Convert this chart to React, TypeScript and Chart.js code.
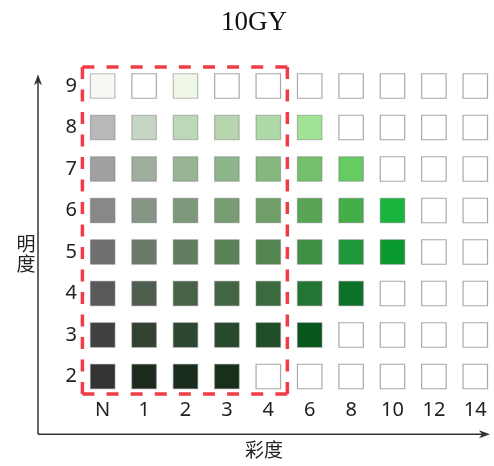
import React, { useEffect, useRef } from 'react';
import { Chart, registerables } from 'chart.js';

Chart.register(...registerables);

const titleText = '10GY';
const xAxisTitle = '彩度';
const yAxisTitle = ['明', '度'];
const chromaLabels = ['N', '1', '2', '3', '4', '6', '8', '10', '12', '14'];
const valueLevels = [9, 8, 7, 6, 5, 4, 3, 2];
// colours per value row, in the order of chromaLabels; null = empty square
const row9 = ['#f7f8f2', null, '#eff8e7', null, null, null, null, null, null, null];
const row8 = ['#b9b9b9', '#c5d5c3', '#bdd8b9', '#b5d6af', '#acd9a6', '#a2e395', null, null, null, null];
const row7 = ['#a0a0a0', '#9fae9e', '#98b495', '#8fb68a', '#86b77f', '#74c06a', '#66cc62', null, null, null];
const row6 = ['#888888', '#869585', '#7e987b', '#779b72', '#6f9e68', '#58a655', '#44ae48', '#19b43e', null, null];
const row5 = ['#707070', '#6b7a69', '#627e60', '#5b8258', '#538650', '#409146', '#1f983c', '#0a9a2d', null, null];
const row4 = ['#595959', '#4f5d4e', '#486247', '#426643', '#3a6a3d', '#217535', '#0d7129', null, null, null];
const row3 = ['#414141', '#314232', '#2b472f', '#27492c', '#1f4d27', '#08561d', null, null, null, null];
const row2 = ['#333333', '#1d2b1e', '#1a2d1c', '#172f1b', null, null, null, null, null, null];
const rowColors = [row9, row8, row7, row6, row5, row4, row3, row2];
// highlighted region: chroma index range and value range
const highlightX = [-0.49, 4.46];
const highlightY = [1.58, 9.46];

const points: { x: number; y: number }[] = [];
const fills: string[] = [];
const borders: string[] = [];
valueLevels.forEach((v, ri) => {
  chromaLabels.forEach((_, ci) => {
    const c = rowColors[ri][ci];
    points.push({ x: ci, y: v });
    fills.push(c ? c : '#ffffff');
    borders.push(c ? 'rgba(110,110,110,0.45)' : '#a8a8a8');
  });
});

function dashedLine(ctx: CanvasRenderingContext2D, x1: number, y1: number, x2: number, y2: number, dash: number, gap: number) {
  const len = Math.hypot(x2 - x1, y2 - y1);
  const n = Math.max(2, Math.round((len + gap) / (dash + gap)));
  const g = (len - n * dash) / (n - 1);
  ctx.setLineDash([dash, g]);
  ctx.beginPath();
  ctx.moveTo(x1, y1);
  ctx.lineTo(x2, y2);
  ctx.stroke();
}

const decor = {
  id: 'decor',
  afterDraw(chart: any) {
    const { ctx, chartArea, scales } = chart;
    const xs = scales.x;
    const ys = scales.y;
    ctx.save();
    // red dashed highlight
    const l = xs.getPixelForValue(highlightX[0]);
    const r = xs.getPixelForValue(highlightX[1]);
    const t = ys.getPixelForValue(highlightY[1]);
    const b = ys.getPixelForValue(highlightY[0]);
    ctx.strokeStyle = '#f03c46';
    ctx.lineWidth = 3.5;
    ctx.lineCap = 'butt';
    dashedLine(ctx, l, t, r, t, 12, 11);
    dashedLine(ctx, r, t, r, b, 12, 11);
    dashedLine(ctx, l, b, r, b, 12, 11);
    dashedLine(ctx, l, t, l, b, 12, 11);
    ctx.setLineDash([]);
    // axes with arrows
    const ax = chartArea.left - 44;
    const ay = chartArea.bottom + 37;
    const topTip = chartArea.top + 9;
    const rightTip = chartArea.right;
    ctx.strokeStyle = '#333';
    ctx.fillStyle = '#333';
    ctx.lineWidth = 1.5;
    ctx.beginPath();
    ctx.moveTo(ax, ay);
    ctx.lineTo(ax, topTip + 8);
    ctx.moveTo(ax, ay);
    ctx.lineTo(rightTip - 8, ay);
    ctx.stroke();
    ctx.beginPath();
    ctx.moveTo(ax, topTip);
    ctx.lineTo(ax - 4, topTip + 11);
    ctx.lineTo(ax, topTip + 8);
    ctx.lineTo(ax + 4, topTip + 11);
    ctx.closePath();
    ctx.fill();
    ctx.beginPath();
    ctx.moveTo(rightTip, ay);
    ctx.lineTo(rightTip - 11, ay - 4);
    ctx.lineTo(rightTip - 8, ay);
    ctx.lineTo(rightTip - 11, ay + 4);
    ctx.closePath();
    ctx.fill();
    // axis titles
    ctx.fillStyle = '#222';
    ctx.font = "19px 'Noto Sans CJK SC'";
    ctx.textAlign = 'center';
    ctx.textBaseline = 'middle';
    ctx.fillText(xAxisTitle, (ax + rightTip) / 2, ay + 16);
    const midY = (chartArea.top + chartArea.bottom) / 2;
    ctx.fillText(yAxisTitle[0], ax - 12, midY + 13);
    ctx.fillText(yAxisTitle[1], ax - 12, midY + 33);
    ctx.restore();
  },
};

export default function App() {
  const ref = useRef<HTMLCanvasElement>(null);
  useEffect(() => {
    if (!ref.current) return;
    const chart = new Chart(ref.current, {
      type: 'scatter',
      data: {
        datasets: [
          {
            data: points,
            pointStyle: 'rect',
            pointRadius: 17.3,
            backgroundColor: fills,
            borderColor: borders,
            borderWidth: 1.2,
          },
        ],
      },
      options: {
        responsive: false,
        animation: false,
        events: [],
        layout: { autoPadding: false, padding: { left: 18, right: 4, top: 0, bottom: 0 } },
        plugins: {
          legend: { display: false },
          tooltip: { enabled: false },
          title: {
            display: true,
            text: titleText,
            color: '#111',
            font: { family: "'Liberation Serif', serif", size: 27, weight: 'normal' },
            padding: { top: 7, bottom: 25.85 },
          },
        },
        scales: {
          x: {
            type: 'linear',
            min: -0.5,
            max: -0.5 + 408 / 41.4,
            grid: { display: false, drawTicks: false },
            border: { display: false },
            afterBuildTicks: (axis: any) => {
              axis.ticks = chromaLabels.map((_, i) => ({ value: i }));
            },
            afterFit: (axis: any) => {
              axis.height = 68.75;
              axis.paddingLeft = 0;
              axis.paddingRight = 0;
            },
            ticks: {
              autoSkip: false,
              maxRotation: 0,
              padding: 1,
              color: '#222',
              font: { family: "'Noto Sans', sans-serif", size: 20 },
              callback: (v: any) => chromaLabels[v] ?? '',
            },
          },
          y: {
            type: 'linear',
            min: 1.5,
            max: 9.5,
            grid: { display: false, drawTicks: false },
            border: { display: false },
            afterBuildTicks: (axis: any) => {
              axis.ticks = valueLevels.map((v) => ({ value: v }));
            },
            afterFit: (axis: any) => {
              axis.width = 64;
              axis.paddingTop = 0;
              axis.paddingBottom = 0;
            },
            ticks: {
              autoSkip: false,
              padding: 5,
              color: '#222',
              font: { family: "'Noto Sans', sans-serif", size: 20 },
            },
          },
        },
      },
      plugins: [decor],
    });
    return () => chart.destroy();
  }, []);
  return (
    <div style={{ position: 'fixed', left: 0, top: 0, width: 494, height: 466, background: '#fff' }}>
      <canvas ref={ref} width={494} height={466} style={{ display: 'block' }} />
    </div>
  );
}
